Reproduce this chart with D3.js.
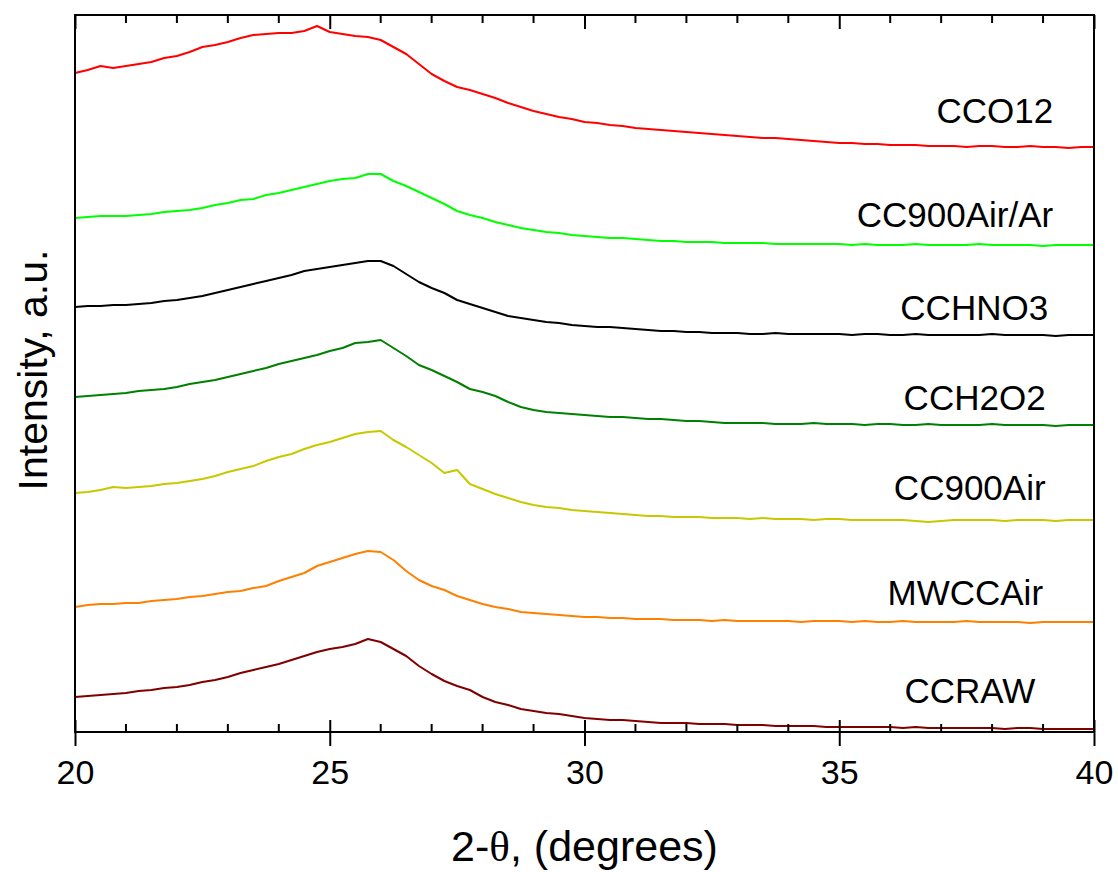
<!DOCTYPE html>
<html><head><meta charset="utf-8">
<script src="https://cdn.jsdelivr.net/npm/d3@7"></script>
<style>
html,body{margin:0;padding:0;background:#fff;}
svg{display:block;}
text{font-family:"Liberation Sans",Arial,sans-serif;fill:#000;}
</style></head>
<body><svg id="chart" width="1118" height="872"></svg>
<script>
// 2-theta sampling (degrees)
const twoTheta = [20,20.25,20.5,20.75,21,21.25,21.5,21.75,22,22.25,22.5,22.75,23,23.25,23.5,23.75,24,24.25,24.5,24.75,25,25.25,25.5,25.75,26,26.25,26.5,26.75,27,27.25,27.5,27.75,28,28.25,28.5,28.75,29,29.25,29.5,29.75,30,30.25,30.5,30.75,31,31.25,31.5,31.75,32,32.25,32.5,32.75,33,33.25,33.5,33.75,34,34.25,34.5,34.75,35,35.25,35.5,35.75,36,36.25,36.5,36.75,37,37.25,37.5,37.75,38,38.25,38.5,38.75,39,39.25,39.5,39.75,40];

// intensities (a.u., vertically offset traces)
const CCO12 = [659,662,666,664,666,668,670,674,676,680,685,687,690,694,697,698,699,699,701,706,700,698,696,695,692,685,678,668,658,651,645,642,638,634,629,625,621,618,615,613,610,609,607,606,604,603,602,601,600,599,598,597,596,595,594,594,593,592,591,590,589,589,588,588,587,587,587,586,586,586,585,586,586,585,585,586,585,585,584,585,585];
const CC900AirAr = [514,515,516,516,516,517,518,520,521,522,524,527,529,532,533,537,539,542,545,548,551,553,554,558,558,551,546,540,534,528,521,517,514,510,507,504,502,500,499,497,496,495,494,494,493,492,491,491,490,490,490,489,489,489,489,488,488,488,488,488,488,487,488,487,487,487,488,487,487,487,487,488,487,487,487,487,486,487,487,487,487];
const CCHNO3 = [425,426,426,427,427,428,429,431,432,434,436,439,442,445,448,451,454,457,461,463,465,467,469,471,471,466,458,450,444,439,432,428,424,420,416,414,412,410,409,407,406,405,405,404,403,402,401,401,400,400,399,399,399,398,398,399,398,398,398,398,398,397,398,398,397,397,398,397,397,397,397,397,398,397,397,397,397,396,397,397,397];
const CCH2O2 = [335,336,337,338,339,341,342,343,345,348,350,352,355,358,361,364,368,371,374,377,381,384,389,390,392,384,376,367,362,356,350,343,340,336,330,325,322,320,319,318,317,316,315,315,314,313,313,312,311,311,310,309,309,309,309,308,308,308,309,308,308,308,307,308,308,307,307,308,307,307,307,307,308,307,307,307,307,306,307,307,307];
const CC900Air = [239,240,242,245,244,245,246,248,249,251,253,256,260,263,266,271,275,278,283,287,290,294,298,300,301,292,285,277,269,259,262,248,243,238,234,230,227,225,224,222,221,220,219,218,217,216,216,215,215,215,214,214,214,213,214,213,213,213,212,213,213,212,212,212,212,212,211,210,211,212,212,212,212,211,212,212,212,211,212,212,212];
const MWCCAir = [125,127,128,128,129,129,131,132,133,135,136,138,140,141,144,146,151,155,159,166,170,174,178,181,180,172,161,152,146,142,136,132,128,125,123,120,119,118,117,116,115,115,114,114,113,113,113,112,112,112,111,112,111,111,111,111,111,110,111,111,111,110,111,110,110,111,110,110,110,110,111,110,110,110,110,109,110,110,110,110,110];
const CCRAW = [35,36,37,38,39,41,42,44,45,47,50,52,55,59,62,65,68,72,76,80,83,85,88,93,90,83,76,66,58,51,46,42,35,30,27,23,21,19,18,16,14,13,12,12,11,10,9,9,9,8,8,8,7,7,7,6,6,6,6,5,5,5,5,5,5,4,5,4,4,4,4,4,4,3,4,4,3,3,3,3,3];

const seriesNames = ["CCO12","CC900Air/Ar","CCHNO3","CCH2O2","CC900Air","MWCCAir","CCRAW"];
const seriesValues = [CCO12, CC900AirAr, CCHNO3, CCH2O2, CC900Air, MWCCAir, CCRAW];
const xTicks = [20,25,30,35,40];
const xMinorTicks = [21,22,23,24,26,27,28,29,31,32,33,34,36,37,38,39];

// styling / layout (kept separate from data)
const colors = ["#ff0000","#00ff00","#000000","#008000","#c8c800","#ff8000","#800000"];
// label anchors: [x in degrees, intensity] for right-aligned text baseline
const labelAnchors = [[39.2,609],[39.2,505],[39.1,412],[39.05,322],[39.05,232],[39.0,127],[38.85,29]];

const mLeft = 75, mRight = 1094, mTop = 15, mBottom = 732;
const svg = d3.select("#chart");

const x = d3.scaleLinear().domain([20,40]).range([mLeft,mRight]);
const y = d3.scaleLinear().domain([0,717]).range([mBottom,mTop]);

// traces
const line = d3.line().x((d,i)=>x(twoTheta[i])).y(d=>y(d));
svg.append("g").selectAll("path").data(seriesValues).join("path")
  .attr("d", d=>line(d))
  .attr("fill","none")
  .attr("stroke",(d,i)=>colors[i])
  .attr("stroke-width",2)
  .attr("stroke-linejoin","round");

// frame
svg.append("rect").attr("x",mLeft).attr("y",mTop).attr("width",mRight-mLeft).attr("height",mBottom-mTop)
  .attr("fill","none").attr("stroke","#000").attr("stroke-width",2);

// bottom axis
const bottomAxis = svg.append("g").attr("transform",`translate(0,${mBottom})`);
bottomAxis.call(d3.axisBottom(x).tickValues(xTicks).tickSize(14).tickFormat(d3.format("d")).tickPadding(14))
  .call(g=>g.select(".domain").remove())
  .call(g=>g.selectAll(".tick line").attr("y1",-12).attr("stroke","#000").attr("stroke-width",2))
  .call(g=>g.selectAll(".tick text").attr("font-size",34).attr("font-family","Liberation Sans, Arial, sans-serif").attr("fill","#000"));
bottomAxis.append("g").selectAll("line").data(xMinorTicks).join("line")
  .attr("x1",d=>x(d)).attr("x2",d=>x(d)).attr("y1",0).attr("y2",-8)
  .attr("stroke","#000").attr("stroke-width",2);

// top axis (ticks inward)
const topAxis = svg.append("g").attr("transform",`translate(0,${mTop})`);
topAxis.call(d3.axisTop(x).tickValues(xTicks).tickSize(-14).tickFormat(""))
  .call(g=>g.select(".domain").remove())
  .call(g=>g.selectAll(".tick line").attr("stroke","#000").attr("stroke-width",2));
topAxis.append("g").selectAll("line").data(xMinorTicks).join("line")
  .attr("x1",d=>x(d)).attr("x2",d=>x(d)).attr("y1",0).attr("y2",8)
  .attr("stroke","#000").attr("stroke-width",2);

// series labels
svg.append("g").selectAll("text").data(seriesNames).join("text")
  .attr("x",(d,i)=>x(labelAnchors[i][0]))
  .attr("y",(d,i)=>y(labelAnchors[i][1]))
  .attr("text-anchor","end")
  .attr("font-size",35)
  .text(d=>d);

// axis titles
const xt = svg.append("text").attr("x",(mLeft+mRight)/2).attr("y",861).attr("text-anchor","middle").attr("font-size",43);
xt.append("tspan").text("2-");
xt.append("tspan").attr("font-family","Liberation Serif, Times New Roman, serif").text("θ");
xt.append("tspan").text(", (degrees)");

svg.append("text").attr("transform","translate(47,370) rotate(-90)").attr("text-anchor","middle").attr("font-size",41)
  .text("Intensity,  a.u.");
</script></body></html>
